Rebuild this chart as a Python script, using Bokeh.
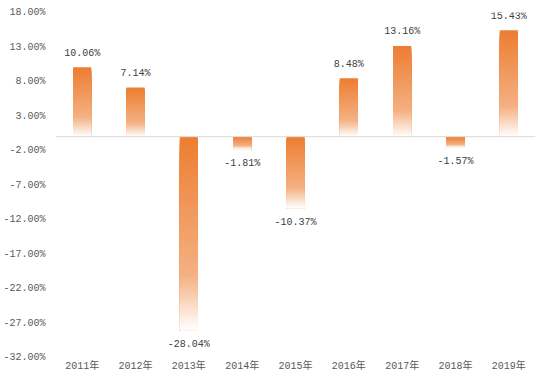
import numpy as np
from bokeh.plotting import figure
from bokeh.models import ColumnDataSource, Range1d, FixedTicker, PrintfTickFormatter, Span, LabelSet
from bokeh.core.properties import value
from bokeh.embed import file_html
from bokeh.resources import INLINE

categories = ["2011年", "2012年", "2013年", "2014年", "2015年", "2016年", "2017年", "2018年", "2019年"]
values = [10.06, 7.14, -28.04, -1.81, -10.37, 8.48, 13.16, -1.57, 15.43]
y_ticks = [-32, -27, -22, -17, -12, -7, -2, 3, 8, 13, 18]

FONT = "Liberation Mono, Noto Sans CJK SC"

p = figure(width=544, height=382, x_range=categories, y_range=Range1d(-32, 18),
           output_backend="svg", toolbar_location=None,
           min_border_left=55, min_border_right=9, min_border_top=12, min_border_bottom=25)
p.outline_line_color = None
p.xgrid.grid_line_color = None
p.ygrid.grid_line_color = None

# gradient bars (top dark orange -> light orange -> white at bottom)
stops_t = [0.0, 0.72, 1.0]
stops_c = np.array([[237, 125, 49], [244, 177, 131], [255, 255, 255]], dtype=float)

def grad_color(t):
    r = np.interp(t, stops_t, stops_c[:, 0])
    g = np.interp(t, stops_t, stops_c[:, 1])
    b = np.interp(t, stops_t, stops_c[:, 2])
    return "#%02x%02x%02x" % (int(round(r)), int(round(g)), int(round(b)))

N = 60
xs, tops, bottoms, colors = [], [], [], []
for c, v in zip(categories, values):
    T, B = max(0.0, v), min(0.0, v)
    for k in range(N):
        yk = T - (T - B) * k / N
        xs.append(c)
        tops.append(yk)
        bottoms.append(B)
        colors.append(grad_color((k + 0.5) / N))

p.vbar(x=xs, top=tops, bottom=bottoms, width=0.34, fill_color=colors, line_color=None)

p.add_layout(Span(location=0, dimension="width", line_color="#D9D9D9", line_width=1))

labels = ["%.2f%%" % v for v in values]
offs = [14 if v >= 0 else -14 for v in values]
src = ColumnDataSource(dict(x=categories, y=values, t=labels, off=offs))
p.add_layout(LabelSet(x="x", y="y", text="t", y_offset="off", source=src, text_align="center",
                      text_baseline="middle", text_font=value(FONT), text_font_size="10px",
                      text_color="#404040", level="overlay"))

p.yaxis.ticker = FixedTicker(ticks=y_ticks)
p.yaxis.formatter = PrintfTickFormatter(format="%.2f%%")
for ax in (p.xaxis[0], p.yaxis[0]):
    ax.axis_line_color = None
    ax.major_tick_line_color = None
    ax.minor_tick_line_color = None
    ax.major_label_text_font = FONT
    ax.major_label_text_font_size = "10px"
    ax.major_label_text_color = "#595959"
p.yaxis.major_label_standoff = 4
p.xaxis.major_label_standoff = -3

open("out.html", "w").write(file_html(p, INLINE))
